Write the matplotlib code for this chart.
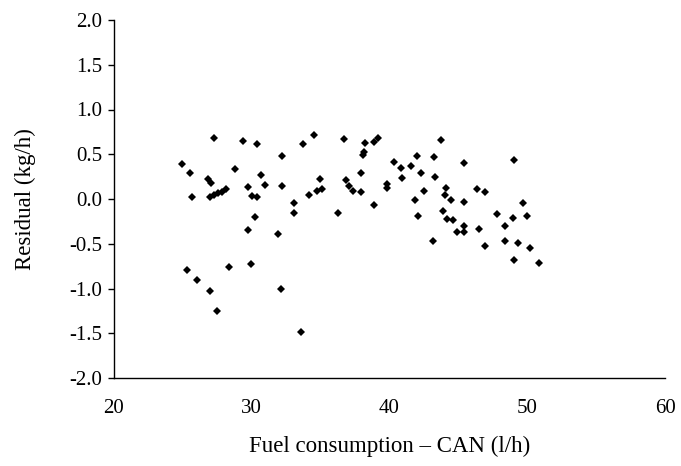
import matplotlib
matplotlib.use("Agg")
import matplotlib.pyplot as plt
from matplotlib.ticker import FixedLocator, FormatStrFormatter

fuel_can = [25.28, 26.06, 26.97, 27.51, 28.38, 29.95, 31.88, 32.12, 33.58, 29.75,
            30.26, 27.26, 29.39, 30.40, 24.94, 25.50, 26.85, 27.04, 28.78, 30.65,
            30.98, 29.71, 25.64, 26.97, 27.26, 27.57, 27.82, 28.11, 30.00, 30.36,
            32.17, 32.17, 33.09, 33.09, 34.54, 33.74, 36.72, 38.24, 38.90, 39.19,
            38.15, 38.05, 37.91, 34.98, 35.12, 34.72, 34.18, 36.86, 37.08, 37.33,
            37.91, 36.24, 38.87, 43.74, 40.33, 40.86, 41.97, 41.54, 43.23, 45.41,
            42.26, 40.94, 43.32, 39.80, 39.80, 42.53, 44.10, 44.01, 44.43, 41.84,
            45.44, 46.37, 46.91, 42.09, 43.91, 44.20, 44.59, 47.78, 45.42, 44.88,
            45.42, 46.51, 48.38, 43.14, 49.05, 49.67, 48.93, 50.00, 46.93, 48.36,
            49.31, 50.22, 49.04, 50.83]
residual = [-0.793, -0.902, -1.025, -1.248, -0.760, -0.723, -0.393, -1.009, -1.483, -0.341,
            -0.198, 0.678, 0.645, 0.618, 0.388, 0.294, 0.227, 0.182, 0.335, 0.268,
            0.156, 0.134, 0.026, 0.026, 0.045, 0.064, 0.082, 0.112, 0.034, 0.026,
            0.484, 0.149, -0.048, -0.153, 0.718, 0.611, 0.670, 0.629, 0.640, 0.678,
            0.528, 0.492, 0.287, 0.220, 0.108, 0.089, 0.041, 0.212, 0.149, 0.089,
            0.078, -0.153, -0.067, 0.656, 0.417, 0.343, 0.484, 0.374, 0.466, 0.402,
            0.287, 0.231, 0.242, 0.168, 0.128, 0.084, 0.121, 0.045, -0.011, -0.013,
            -0.034, 0.112, 0.076, -0.187, -0.136, -0.220, -0.237, -0.165, -0.305, -0.365,
            -0.369, -0.333, -0.302, -0.469, 0.436, -0.050, -0.209, -0.192, -0.528, -0.469,
            -0.495, -0.547, -0.682, -0.715]

x_ticks = [20, 30, 40, 50, 60]
y_ticks = [-2.0, -1.5, -1.0, -0.5, 0.0, 0.5, 1.0, 1.5, 2.0]
x_label = "Fuel consumption \u2013 CAN (l/h)"
y_label = "Residual (kg/h)"

plt.rcParams['font.family'] = ['Liberation Serif', 'DejaVu Serif']
plt.rcParams['axes.unicode_minus'] = False

fig = plt.figure(figsize=(6.81, 4.66), dpi=100)
ax = fig.add_axes([114/681, 1 - 378/466, (665 - 114)/681, (378 - 20)/466])

ax.plot(fuel_can, residual, linestyle='none', marker='D', markersize=4.3,
        color='black', markeredgewidth=0)

ax.set_xlim(20, 60)
ax.set_ylim(-2.0, 2.0)
ax.xaxis.set_major_locator(FixedLocator(x_ticks))
ax.yaxis.set_major_locator(FixedLocator(y_ticks))
ax.yaxis.set_major_formatter(FormatStrFormatter('%.1f'))

for s in ['top', 'right']:
    ax.spines[s].set_visible(False)
for s in ['left', 'bottom']:
    ax.spines[s].set_linewidth(1.0)
    ax.spines[s].set_color('black')

ax.tick_params(axis='y', direction='out', length=4.5, width=1.0, pad=4, labelsize=15)
ax.tick_params(axis='x', direction='out', length=0, width=1.0, pad=15, labelsize=15)

ax.set_xlabel(x_label, fontsize=16.5, labelpad=13)
ax.set_ylabel(y_label, fontsize=16.5, labelpad=24)

fig.savefig("out.png", dpi=100)
